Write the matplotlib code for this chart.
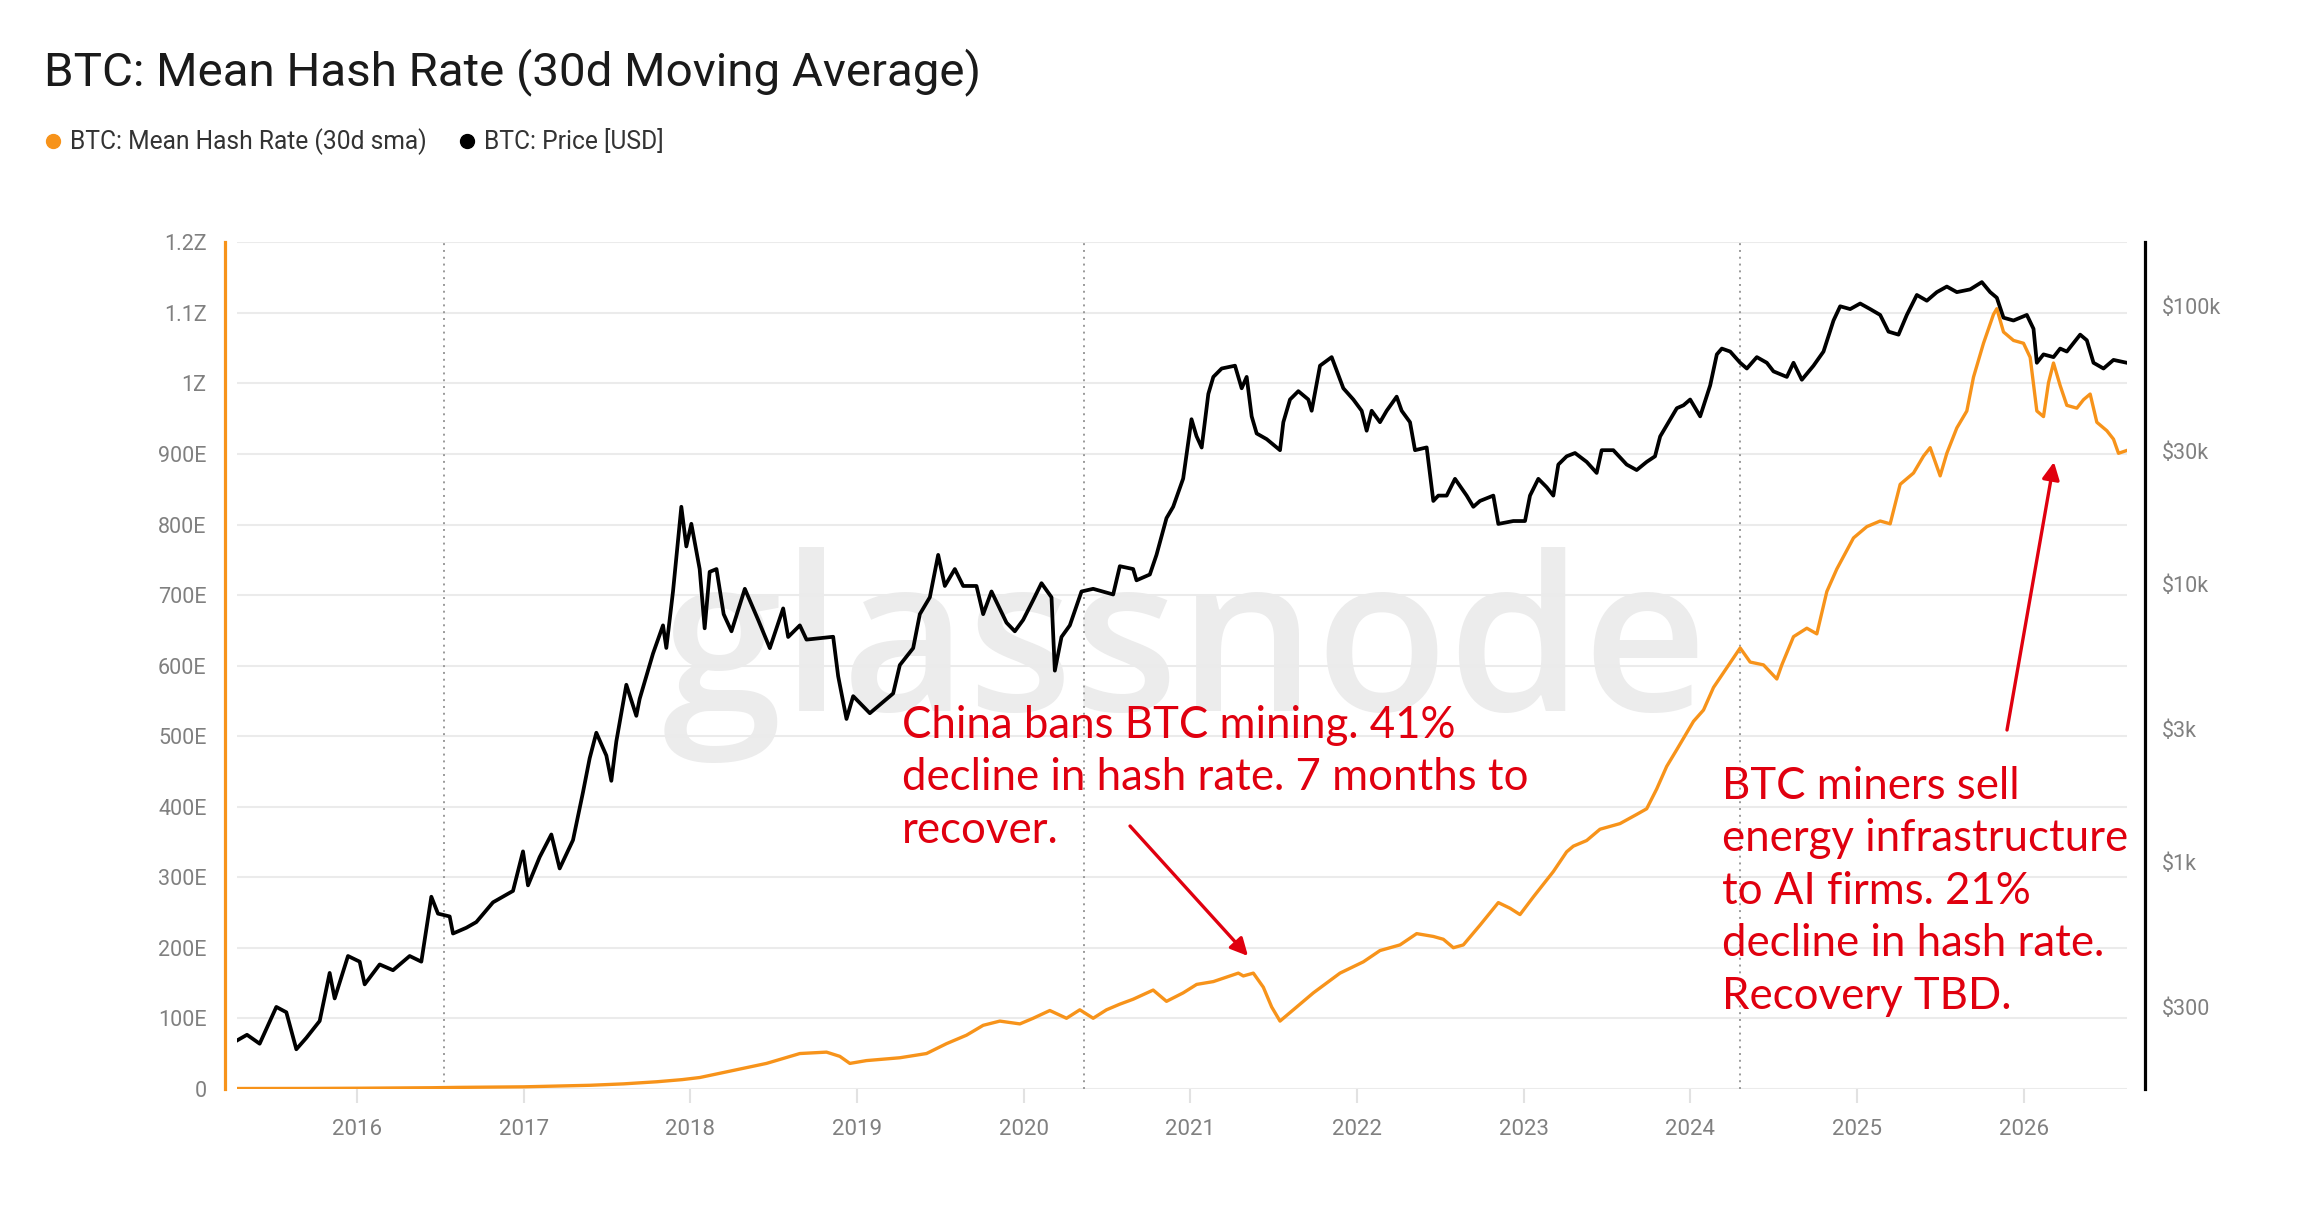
import matplotlib
matplotlib.use("Agg")
import matplotlib.pyplot as plt
import matplotlib.ticker as mticker
from matplotlib.lines import Line2D
from matplotlib.patches import FancyArrowPatch

plt.rcParams['font.family'] = ['Roboto', 'DejaVu Sans']

# ---------------- data ----------------
title = "BTC: Mean Hash Rate (30d Moving Average)"
legend_labels = ["BTC: Mean Hash Rate (30d sma)", "BTC: Price [USD]"]

hash_years = [2015.28, 2015.70, 2016.00, 2016.45, 2016.60, 2017.00, 2017.40, 2017.60, 2017.80, 2017.95,
              2018.057, 2018.257, 2018.457, 2018.657, 2018.817, 2018.897, 2018.957, 2019.057, 2019.257,
              2019.417, 2019.537, 2019.657, 2019.757, 2019.857, 2019.977, 2020.057, 2020.157, 2020.257,
              2020.337, 2020.417, 2020.497, 2020.577, 2020.657, 2020.777, 2020.857, 2020.957, 2021.038,
              2021.138, 2021.238, 2021.288, 2021.318, 2021.378, 2021.438, 2021.488, 2021.538, 2021.618,
              2021.738, 2021.898, 2022.038, 2022.138, 2022.258, 2022.358, 2022.458, 2022.518, 2022.578,
              2022.638, 2022.738, 2022.848, 2022.918, 2022.978, 2023.058, 2023.178, 2023.258, 2023.298,
              2023.378, 2023.458, 2023.578, 2023.678, 2023.738, 2023.798, 2023.858, 2023.919, 2024.019,
              2024.079, 2024.139, 2024.219, 2024.299, 2024.359, 2024.439, 2024.519, 2024.549, 2024.619,
              2024.699, 2024.759, 2024.819, 2024.879, 2024.979, 2025.059, 2025.139, 2025.199, 2025.259,
              2025.339, 2025.399, 2025.439, 2025.499, 2025.539, 2025.599, 2025.659, 2025.699, 2025.759,
              2025.819, 2025.839, 2025.879, 2025.939, 2025.999, 2026.039, 2026.079, 2026.119, 2026.149,
              2026.179, 2026.219, 2026.259, 2026.319, 2026.359, 2026.399, 2026.439, 2026.499, 2026.539,
              2026.569, 2026.619]
hash_ehs = [0.4, 0.5, 0.8, 1.5, 2.0, 2.8, 5, 7, 10, 13,
            16, 26, 36, 50, 52, 46, 36, 40, 44,
            50, 64, 76, 90, 96, 92, 100, 111, 100,
            112, 100, 112, 120, 127, 140, 124, 136, 148,
            152, 160, 164, 160, 164, 144, 116, 96, 112,
            136, 164, 180, 196, 204, 220, 216, 212, 200,
            204, 232, 264, 256, 247, 272, 308, 336, 344,
            352, 368, 376, 389, 397, 425, 457, 481, 521,
            537, 569, 597, 625, 605, 601, 581, 601, 641,
            653, 645, 705, 737, 781, 797, 805, 801, 857,
            873, 897, 909, 869, 901, 937, 961, 1009, 1057,
            1098, 1106, 1073, 1061, 1057, 1037, 961, 953, 1001,
            1029, 997, 969, 965, 977, 985, 945, 933, 921,
            901, 905]

price_years = [2015.280, 2015.340, 2015.416, 2015.516, 2015.576, 2015.636, 2015.696, 2015.776, 2015.836,
               2015.866, 2015.946, 2016.016, 2016.046, 2016.136, 2016.216, 2016.316, 2016.386, 2016.446,
               2016.486, 2016.556, 2016.576, 2016.656, 2016.716, 2016.816, 2016.936, 2016.996, 2017.026,
               2017.096, 2017.166, 2017.216, 2017.296, 2017.356, 2017.396, 2017.436, 2017.496, 2017.526,
               2017.556, 2017.616, 2017.676, 2017.696, 2017.776, 2017.836, 2017.856, 2017.896, 2017.946,
               2017.976, 2018.006, 2018.056, 2018.086, 2018.116, 2018.157, 2018.200, 2018.247, 2018.327,
               2018.407, 2018.477, 2018.557, 2018.587, 2018.657, 2018.697, 2018.857, 2018.887, 2018.937,
               2018.977, 2019.077, 2019.217, 2019.257, 2019.337, 2019.377, 2019.437, 2019.487, 2019.527,
               2019.587, 2019.637, 2019.717, 2019.757, 2019.807, 2019.897, 2019.947, 2019.997, 2020.057,
               2020.107, 2020.167, 2020.187, 2020.227, 2020.277, 2020.347, 2020.417, 2020.537, 2020.577,
               2020.657, 2020.677, 2020.757, 2020.797, 2020.857, 2020.897, 2020.957, 2021.007, 2021.037,
               2021.068, 2021.108, 2021.138, 2021.188, 2021.268, 2021.308, 2021.338, 2021.368, 2021.398,
               2021.458, 2021.538, 2021.558, 2021.598, 2021.648, 2021.708, 2021.728, 2021.778, 2021.848,
               2021.918, 2021.978, 2022.028, 2022.058, 2022.088, 2022.138, 2022.178, 2022.238, 2022.268,
               2022.318, 2022.348, 2022.418, 2022.458, 2022.488, 2022.538, 2022.588, 2022.658, 2022.698,
               2022.738, 2022.818, 2022.848, 2022.938, 2023.008, 2023.038, 2023.088, 2023.138, 2023.178,
               2023.208, 2023.258, 2023.308, 2023.378, 2023.438, 2023.468, 2023.538, 2023.618, 2023.678,
               2023.738, 2023.788, 2023.819, 2023.859, 2023.919, 2023.959, 2023.999, 2024.059, 2024.119,
               2024.159, 2024.189, 2024.239, 2024.299, 2024.339, 2024.399, 2024.459, 2024.499, 2024.579,
               2024.619, 2024.669, 2024.739, 2024.799, 2024.859, 2024.899, 2024.959, 2025.019, 2025.079,
               2025.139, 2025.189, 2025.249, 2025.299, 2025.359, 2025.419, 2025.479, 2025.539, 2025.599,
               2025.679, 2025.749, 2025.799, 2025.839, 2025.879, 2025.939, 2026.019, 2026.059, 2026.079,
               2026.119, 2026.179, 2026.219, 2026.259, 2026.339, 2026.379, 2026.419, 2026.479, 2026.539,
               2026.619]
price_usd = [228, 239, 222, 301, 288, 212, 233, 268, 399,
             323, 459, 438, 363, 428, 408, 459, 438, 750,
             652, 637, 553, 580, 608, 716, 787, 1092, 824,
             1042, 1256, 948, 1199, 1783, 2361, 2917, 2416, 1959,
             2716, 4341, 3356, 3862, 5620, 7100, 5890, 9400, 18960,
             13650, 16470, 11320, 6930, 11060, 11320, 7790, 6760, 9610,
             7430, 5880, 8170, 6450, 7100, 6310, 6460, 4660, 3270,
             3950, 3430, 4040, 5110, 5880, 7790, 8960, 12730, 9840,
             11320, 9840, 9840, 7790, 9400, 7260, 6760, 7430, 8750,
             10070, 8960, 4880, 6450, 7100, 9400, 9610, 9170, 11590,
             11320, 10310, 10820, 12730, 17260, 18960, 23950, 39160, 34040,
             30970, 48300, 55600, 59600, 61000, 50600, 55600, 40100, 34800,
             33200, 30300, 38200, 46100, 49400, 46100, 42000, 61000, 65500,
             50600, 46100, 42000, 35600, 42000, 38200, 42000, 47200, 42000,
             38200, 30300, 31000, 19900, 20800, 20800, 23900, 20800, 18960,
             19900, 20800, 16450, 16850, 16850, 20800, 23900, 22300, 20800,
             26900, 28800, 29600, 27500, 25100, 30300, 30300, 26900, 25700,
             27500, 28800, 33960, 37300, 42900, 43950, 46100, 40100, 51800,
             67000, 70300, 68600, 62500, 59600, 65500, 62500, 58200, 55600,
             62500, 54300, 61000, 68600, 88700, 99800, 97500, 102100, 97500,
             92900, 80900, 78900, 92900, 109600, 104500, 112200, 117500, 112200,
             114800, 121900, 112200, 107100, 90800, 88700, 92900, 82800, 62500,
             67000, 65500, 70300, 68600, 78900, 75300, 62500, 59600, 64000,
             62500]

halving_years = [2016.52, 2020.36, 2024.30]
year_ticks = list(range(2016, 2027))
hash_ticks = [0, 100, 200, 300, 400, 500, 600, 700, 800, 900, 1000, 1100, 1200]
hash_tick_labels = ["0", "100E", "200E", "300E", "400E", "500E", "600E", "700E",
                    "800E", "900E", "1Z", "1.1Z", "1.2Z"]
price_ticks = [300, 1000, 3000, 10000, 30000, 100000]
price_tick_labels = ["$300", "$1k", "$3k", "$10k", "$30k", "$100k"]

note_china = "China bans BTC mining. 41%\ndecline in hash rate. 7 months to\nrecover."
note_ai = "BTC miners sell\nenergy infrastructure\nto AI firms. 21%\ndecline in hash rate.\nRecovery TBD."
watermark = "glassnode"

# ---------------- style ----------------
ORANGE = "#f7931a"
RED = "#e0000f"
GREY_TXT = "#808080"
W, H = 2307, 1222

def fx(px):
    return px / W

def fy(py):
    return 1 - py / H

fig = plt.figure(figsize=(W / 100, H / 100), dpi=100)
fig.patch.set_facecolor("white")

ax = fig.add_axes([fx(237), fy(1088.8), (2127 - 237) / W, (1088.8 - 242.4) / H])
ax2 = ax.twinx()

# watermark (behind grid and lines)
ax.text(fx(1185), fy(711), watermark, transform=fig.transFigure, ha="center", va="baseline",
        fontsize=156, color="#ececec", family=["Open Sans", "DejaVu Sans"], fontweight="semibold",
        zorder=0)

ax.plot(hash_years, hash_ehs, color=ORANGE, lw=2.4, zorder=3)
ax2.plot(price_years, price_usd, color="black", lw=2.7, zorder=3)

for hy in halving_years:
    ax.axvline(hy, color="#9a9a9a", lw=1.4, ls=(0, (1, 2.5)), zorder=1)

ax.set_xlim(2015.28, 2026.62)
ax.set_ylim(0, 1200)
ax2.set_yscale("log")
ax2.set_ylim(152.8, 169400)

ax.set_xticks(year_ticks)
ax.set_xticklabels([str(y) for y in year_ticks])
ax.set_yticks(hash_ticks)
ax.set_yticklabels(hash_tick_labels)
ax2.set_yticks(price_ticks)
ax2.set_yticklabels(price_tick_labels)
ax2.yaxis.set_minor_locator(mticker.NullLocator())

ax.yaxis.grid(True, color="#ebebeb", lw=1.5)
ax.set_axisbelow(True)

for s in ["top", "bottom", "right"]:
    ax.spines[s].set_visible(False)
ax.spines["left"].set_color(ORANGE)
ax.spines["left"].set_linewidth(2.3)
ax.spines["left"].set_position(("outward", 9))
for s in ["top", "bottom", "left"]:
    ax2.spines[s].set_visible(False)
ax2.spines["right"].set_color("black")
ax2.spines["right"].set_linewidth(2.3)
ax2.spines["right"].set_position(("outward", 13))

ax.tick_params(axis="y", length=0, pad=13, labelsize=15.5, labelcolor=GREY_TXT)
ax.tick_params(axis="x", length=10, width=1.5, color="#e2e2e2", pad=12, labelsize=16,
               labelcolor=GREY_TXT)
ax2.tick_params(axis="y", length=0, pad=12, labelsize=15.5, labelcolor=GREY_TXT)

# title & legend
fig.text(fx(44), fy(85), title, fontsize=34.2, color="#1a1a1a", va="baseline", ha="left")
fig.add_artist(Line2D([fx(53)], [fy(141)], marker="o", ms=10, color=ORANGE, transform=fig.transFigure))
fig.text(fx(70), fy(149), legend_labels[0], fontsize=17.7, color="#333333", va="baseline")
fig.add_artist(Line2D([fx(467)], [fy(141)], marker="o", ms=10, color="black", transform=fig.transFigure))
fig.text(fx(484), fy(149), legend_labels[1], fontsize=17.7, color="#333333", va="baseline")

# annotations (va='baseline' anchors the last line)
fig.text(fx(902), fy(843), note_china, fontsize=31.5, color=RED, va="baseline", ha="left",
         family=["Lato", "DejaVu Sans"], linespacing=1.35)
fig.text(fx(1722), fy(1009), note_ai, fontsize=31.5, color=RED, va="baseline", ha="left",
         family=["Lato", "DejaVu Sans"], linespacing=1.35)

for (x0, y0), (x1, y1) in [((1130, 826), (1248, 956)), ((2007, 730), (2054, 462))]:
    fig.add_artist(FancyArrowPatch((fx(x0), fy(y0)), (fx(x1), fy(y1)), transform=fig.transFigure,
                                   arrowstyle="-|>", mutation_scale=26, color=RED, lw=2.4,
                                   shrinkA=0, shrinkB=0))

fig.savefig("out.png", dpi=100, facecolor="white")
